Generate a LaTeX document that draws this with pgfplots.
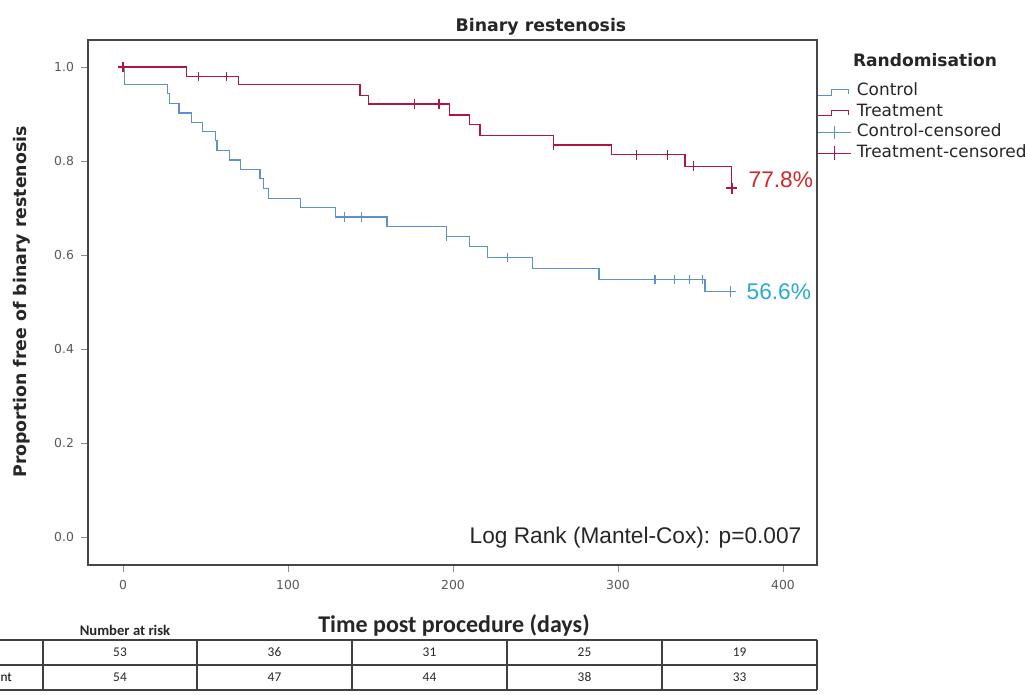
\documentclass[border=0pt]{standalone}
\usepackage{fontspec}
\usepackage{pgfplots}
\pgfplotsset{compat=1.18}
\setmainfont{DejaVu Sans}
\newfontfamily\dejavu{DejaVu Sans}
\newfontfamily\carlito{Carlito}
\newfontfamily\libsans{Liberation Sans}
\definecolor{ctrl}{RGB}{92,145,205}
\definecolor{trt}{RGB}{175,22,65}
\definecolor{ctrltxt}{RGB}{40,170,215}
\definecolor{trttxt}{RGB}{210,40,40}
\definecolor{frame}{RGB}{70,70,70}

\pgfplotstableread{
x y
0 1.000
1 0.962
27 0.943
28 0.923
34 0.902
41.5 0.882
48 0.862
56 0.843
57 0.823
64.5 0.802
71 0.781
83 0.762
85 0.742
88 0.721
107.7 0.701
129 0.681
160 0.660
196 0.639
210 0.618
221 0.595
248 0.572
288.5 0.548
352.7 0.522
368 0.522
}\ctrldata

\pgfplotstableread{
x y
134.5 0.681
144.6 0.681
196 0.639
233 0.595
322.4 0.548
334 0.548
343.2 0.548
351.3 0.548
}\ctrlcens

\pgfplotstableread{
x y
0 1.000
38.6 0.980
70 0.962
143.6 0.940
148.7 0.921
198 0.898
210 0.877
216.4 0.855
260.8 0.834
296.2 0.813
340.6 0.789
368.9 0.742
}\trtdata

\pgfplotstableread{
x y
45.6 0.980
62.8 0.980
176.6 0.921
191.5 0.921
260.8 0.834
311 0.813
330 0.813
345.7 0.789
}\trtcens

\begin{document}
\begin{tikzpicture}
\begin{axis}[
  at={(66pt,97.5pt)}, anchor=south west,
  width=546.75pt, height=393.75pt, scale only axis,
  xmin=-21.2, xmax=420.6, ymin=-0.0596, ymax=1.0574,
  xtick={0,100,200,300,400},
  ytick={0,0.2,0.4,0.6,0.8,1.0},
  ticklabel style={font=\dejavu\fontsize{9.3}{11}\selectfont, text=black!65},
  xticklabel style={yshift=-2.5pt},
  yticklabel style={xshift=-1.5pt, /pgf/number format/.cd, fixed, fixed zerofill, precision=1},
  /pgf/number format/assume math mode=true,
  tick align=outside, major tick length=5.5pt,
  tick style={black!45, line width=0.6pt},
  xtick pos=bottom, ytick pos=left,
  axis line style={frame, line width=1.1pt},
  legend style={at={(1.0,0.917)}, anchor=north west, draw=none, fill=none,
    font=\dejavu\fontsize{12.7}{14}\selectfont, text=black!85,
    row sep=3.3pt, inner sep=0pt,
    nodes={inner sep=0pt, text height=9pt, text depth=3pt},
    /tikz/every odd column/.append style={column sep=4pt}},
  legend cell align=left,
]
\addlegendimage{legend image code/.code={\draw[ctrl, line width=0.7pt] (0pt,-2.6pt) -- (10.5pt,-2.6pt) -- (10.5pt,1.4pt) -- (23pt,1.4pt) -- (23pt,-2pt);}}
\addlegendentry{Control}
\addlegendimage{legend image code/.code={\draw[trt, line width=0.7pt] (0pt,-2.6pt) -- (10.5pt,-2.6pt) -- (10.5pt,1.4pt) -- (23pt,1.4pt) -- (23pt,-2pt);}}
\addlegendentry{Treatment}
\addlegendimage{legend image code/.code={\draw[ctrl, line width=0.7pt] (0pt,0pt) -- (25pt,0pt) (12.5pt,-5pt) -- (12.5pt,5pt);}}
\addlegendentry{Control-censored}
\addlegendimage{legend image code/.code={\draw[trt, line width=0.7pt] (0pt,0pt) -- (25pt,0pt) (12.5pt,-5pt) -- (12.5pt,5pt);}}
\addlegendentry{Treatment-censored}

\addplot[const plot, ctrl, line width=0.9pt, forget plot] table[x=x,y=y] {\ctrldata};
\addplot[const plot, trt, line width=0.9pt, forget plot] table[x=x,y=y] {\trtdata};
\addplot[only marks, mark=|, mark size=3.6pt, ctrl, mark options={line width=0.8pt}, forget plot] table[x=x,y=y] {\ctrlcens};
\addplot[only marks, mark=|, mark size=3.6pt, trt, mark options={line width=0.8pt}, forget plot] table[x=x,y=y] {\trtcens};
\addplot[only marks, mark=+, mark size=4pt, ctrl, mark options={line width=1pt}, forget plot] coordinates {(368,0.522)};
\addplot[only marks, mark=+, mark size=4pt, trt, mark options={line width=1.5pt}, forget plot] coordinates {(0,1.0) (368.9,0.742)};
\end{axis}

\begin{scope}[x=0.75pt,y=0.75pt]
% titles and labels
\node[font=\dejavu\bfseries\fontsize{13}{15}\selectfont, text=black!85] at (541,668) {Binary restenosis};
\node[font=\dejavu\bfseries\fontsize{13}{15}\selectfont, text=black!85, rotate=90] at (22,393) {Proportion free of binary restenosis};
\node[font=\dejavu\bfseries\fontsize{12.8}{15}\selectfont, text=black!85] at (925,635) {Randomisation};
\node[font=\libsans\fontsize{17}{19}\selectfont, text=black!85, anchor=east] at (806,157) {Log Rank (Mantel-Cox): p=0.007};
\node[font=\libsans\fontsize{17}{19}\selectfont, text=trttxt, anchor=west] at (744,515) {77.8\%};
\node[font=\libsans\fontsize{17}{19}\selectfont, text=ctrltxt, anchor=west] at (742,403) {56.6\%};
\node[font=\carlito\bfseries\fontsize{18}{20}\selectfont, text=black!85] at (454,70) {Time post procedure (days)};
\node[font=\carlito\bfseries\fontsize{11}{13}\selectfont, text=black!85] at (125,65) {Number at risk};

% number at risk table
\draw[black!75, line width=0.8pt] (-5,55) -- (817,55) (-5,30) -- (817,30) (-5,5) -- (817,5);
\foreach \xx in {43,197,352,507,662,817} {\draw[black!75, line width=0.8pt] (\xx,55) -- (\xx,5);}
\node[font=\carlito\fontsize{10}{12}\selectfont, anchor=west] at (-49,42.5) {Control};
\node[font=\carlito\fontsize{10}{12}\selectfont, anchor=west] at (-49,17.5) {Treatment};
\foreach \xx/\a/\b in {120/53/54, 274.5/36/47, 429.5/31/44, 584.5/25/38, 739.5/19/33} {
  \node[font=\carlito\fontsize{10}{12}\selectfont, text=black!85] at (\xx,42.5) {\a};
  \node[font=\carlito\fontsize{10}{12}\selectfont, text=black!85] at (\xx,17.5) {\b};
}
\pgfresetboundingbox
\useasboundingbox (0,0) rectangle (1025,695);
\end{scope}
\end{tikzpicture}
\end{document}
